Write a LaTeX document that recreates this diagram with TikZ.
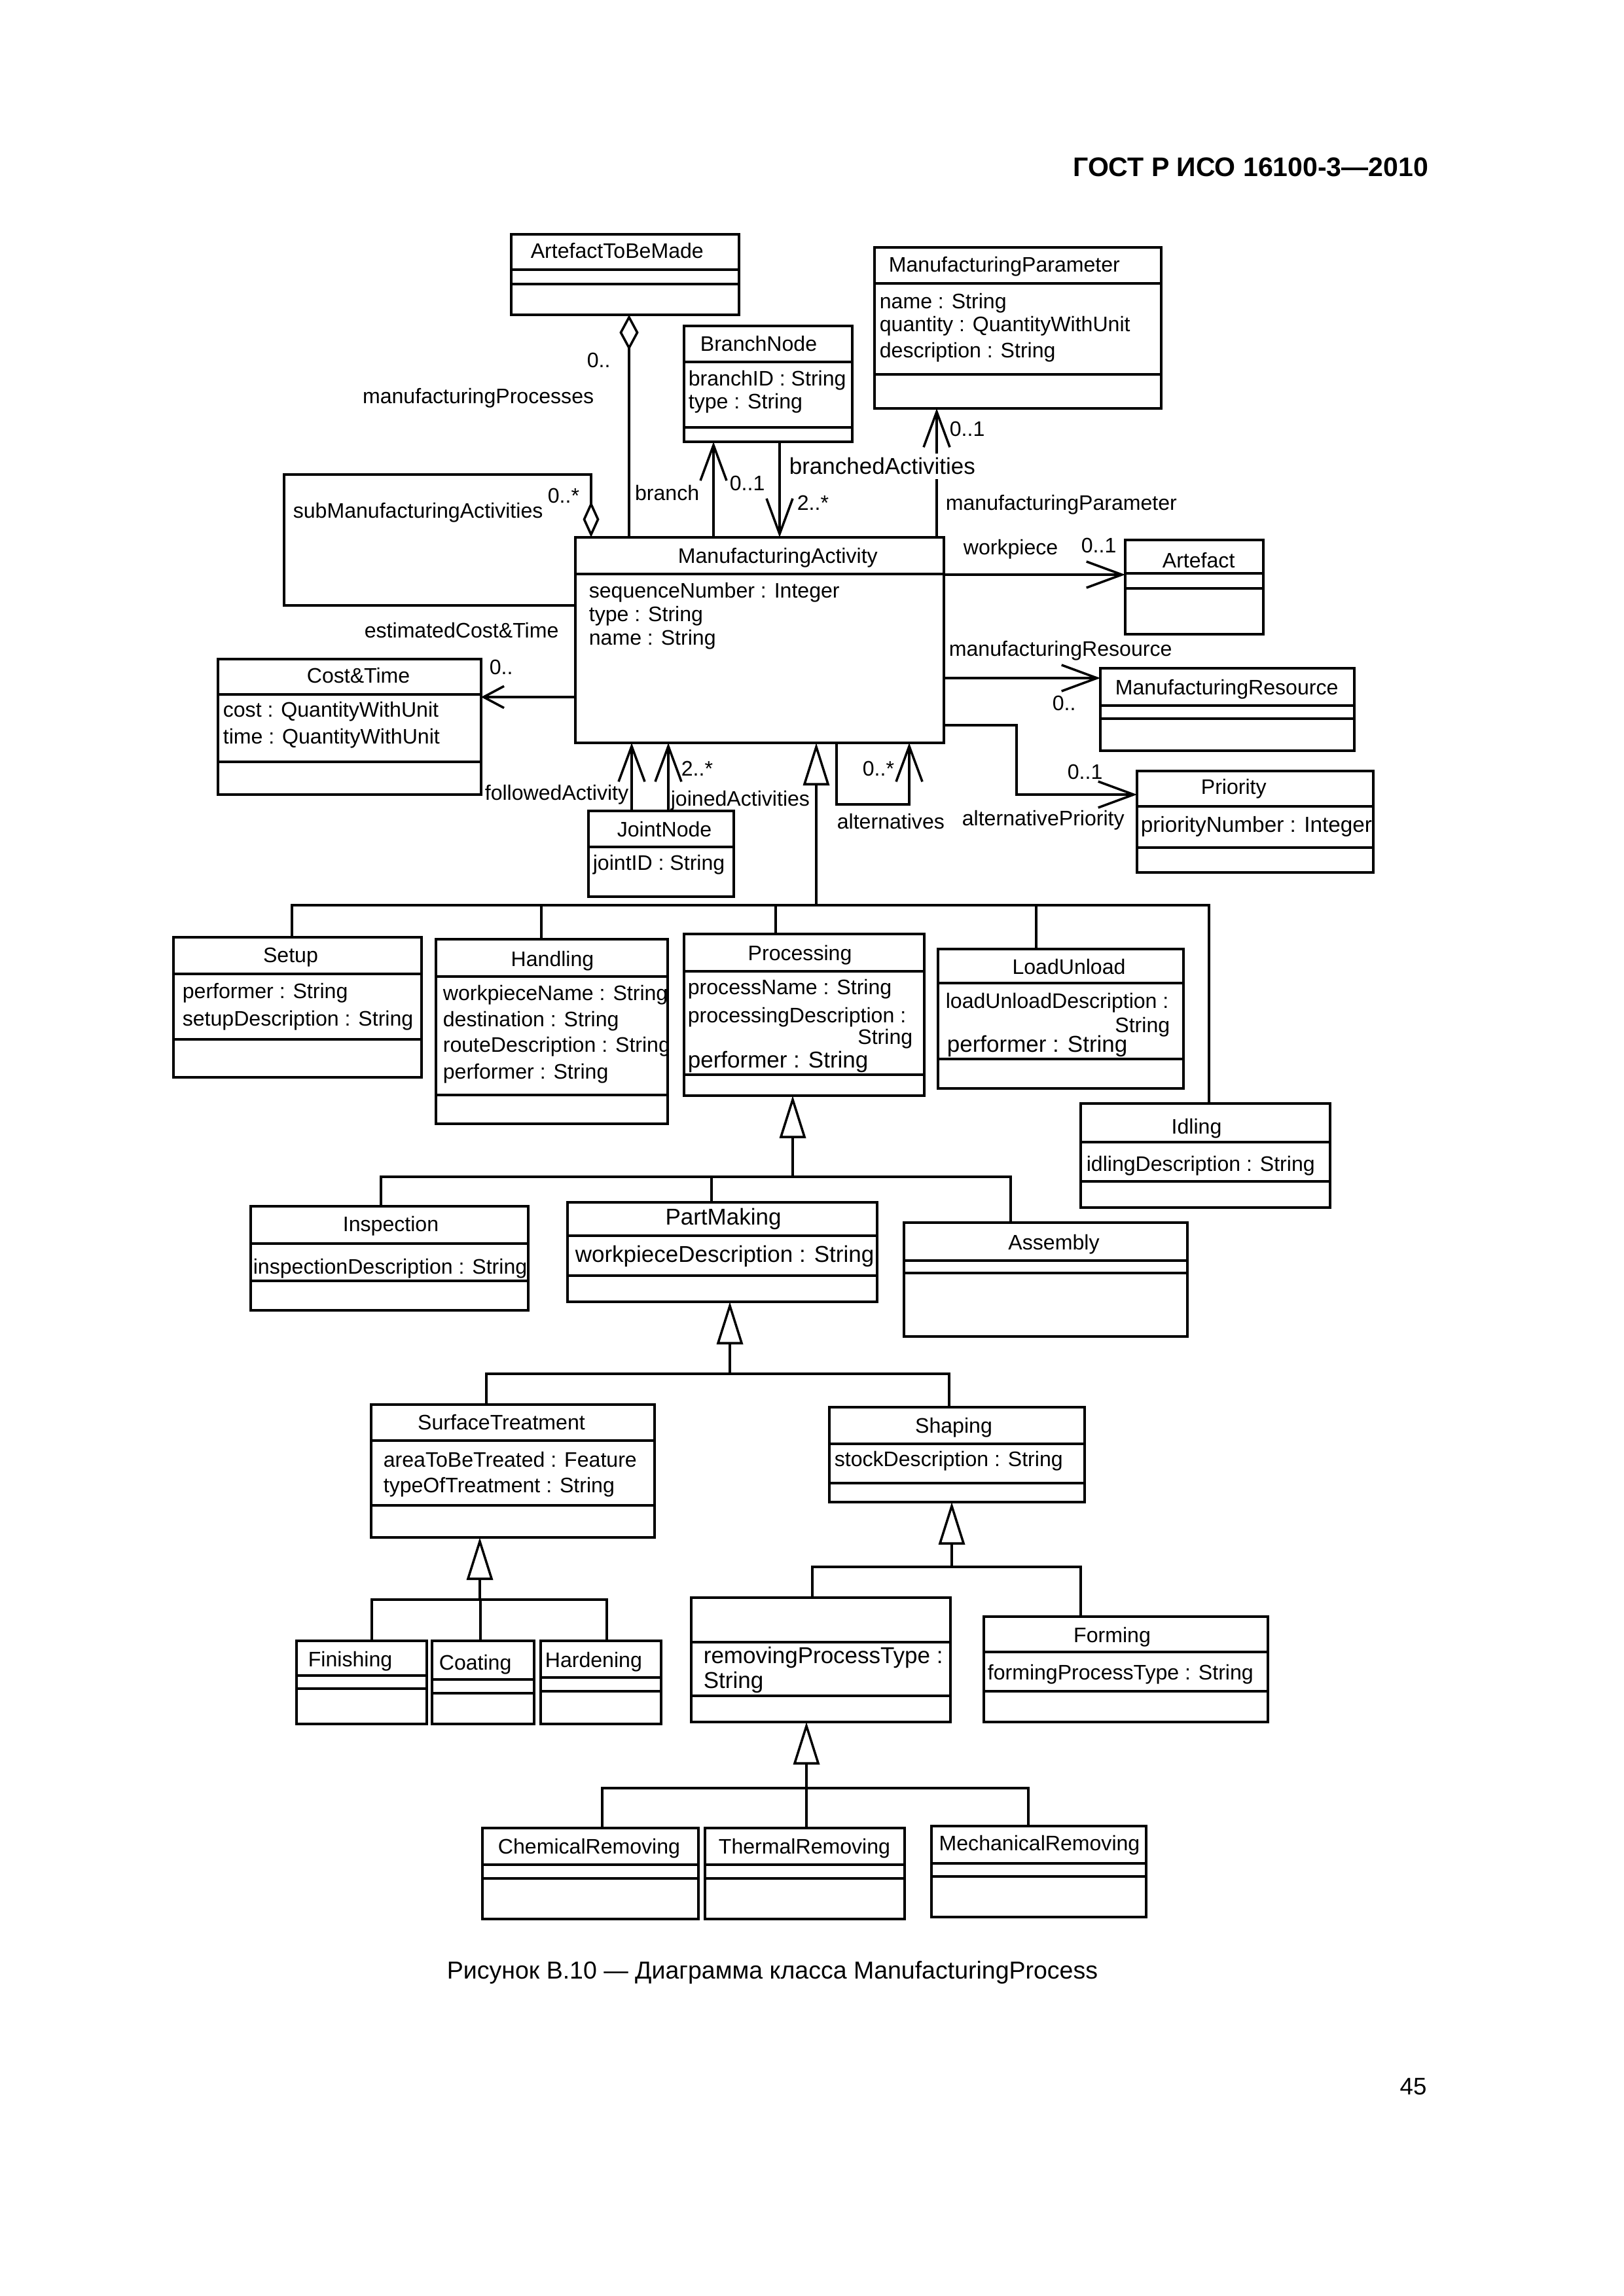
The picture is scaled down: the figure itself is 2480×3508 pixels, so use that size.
\documentclass[tikz,border=0pt]{standalone}
\usepackage{fontspec}
\setmainfont{Liberation Sans}
\usetikzlibrary{arrows.meta}
\tikzset{
 ubox/.style={draw, line width=1pt, inner sep=0pt, outer sep=0pt},
 sepline/.style={line width=1pt},
 conn/.style={line width=0.85pt},
 opena/.style={-{Straight Barb[length=13pt,width=9.6pt]}},
 gen/.style={{Triangle[open,length=15.6pt,width=9.6pt]}-},
 agg/.style={{Diamond[open,length=13pt,width=7pt]}-},
 lbl/.style={inner sep=0pt, font=\fontsize{7.7}{9}\selectfont},
 big/.style={font=\fontsize{8.4}{10}\selectfont},
}
\newcommand\umlbox[7]{%
 \node[ubox, anchor=north west, minimum width={(#4-#2)*0.24pt}, minimum height={(#5-#3)*0.24pt}] (#1) at (#2,#3) {};
 \ifx&#6&\else\draw[sepline] (#1.west |- 0,#6) -- (#1.east |- 0,#6);\fi
 \ifx&#7&\else\draw[sepline] (#1.west |- 0,#7) -- (#1.east |- 0,#7);\fi}
\begin{document}
\begin{tikzpicture}[x=0.24pt,y=-0.24pt]
\useasboundingbox (0,0) rectangle (2480,3508);
\node[lbl, font=\bfseries\fontsize{9.85}{12}\selectfont, anchor=base east] (hdr) at (2183,270) {ГОСТ Р ИСО 16100-3—2010};
% boxes
\umlbox{atbm}{781}{358}{1129}{481}{412}{434}
\umlbox{bn}{1045}{498}{1302}{675}{553}{653}
\umlbox{mp}{1336}{378}{1774}{624}{433}{572}
\umlbox{ma}{879}{821}{1442}{1135}{877}{}
\umlbox{art}{1719}{825}{1930}{969}{876}{899}
\umlbox{mr}{1681}{1021}{2069}{1147}{1078}{1098}
\umlbox{ct}{333}{1007}{735}{1214}{1061}{1164}
\umlbox{prio}{1737}{1178}{2098}{1333}{1232}{1295}
\umlbox{jn}{899}{1239}{1121}{1370}{1294}{}
\umlbox{setup}{265}{1432}{644}{1646}{1488}{1588}
\umlbox{hand}{666}{1435}{1020}{1717}{1492}{1673}
\umlbox{proc}{1045}{1427}{1412}{1674}{1484}{1642}
\umlbox{lu}{1433}{1450}{1808}{1663}{1502}{1618}
\umlbox{idl}{1651}{1686}{2032}{1845}{1745}{1805}
\umlbox{insp}{383}{1843}{807}{2002}{1900}{1957}
\umlbox{pm}{867}{1837}{1340}{1989}{1888}{1949}
\umlbox{asm}{1381}{1868}{1814}{2042}{1926}{1945}
\umlbox{st}{567}{2146}{1000}{2349}{2201}{2300}
\umlbox{shp}{1267}{2150}{1657}{2295}{2206}{2266}
\umlbox{fin}{453}{2507}{652}{2634}{2560}{2580}
\umlbox{coat}{660}{2507}{816}{2634}{2566}{2587}
\umlbox{hard}{826}{2507}{1010}{2634}{2563}{2584}
\umlbox{rem}{1056}{2441}{1452}{2631}{2509}{2591}
\umlbox{form}{1503}{2470}{1937}{2631}{2524}{2584}
\umlbox{chem}{737}{2793}{1067}{2932}{2849}{2870}
\umlbox{therm}{1077}{2793}{1382}{2932}{2849}{2870}
\umlbox{mech}{1423}{2790}{1751}{2929}{2847}{2867}
% associations
\draw[conn, agg] (961,0 |- atbm.south) -- (961,0 |- ma.north);
\draw[conn, opena] (1090,0 |- ma.north) -- (1090,0 |- bn.south);
\draw[conn, opena] (1191,0 |- bn.south) -- (1191,0 |- ma.north);
\draw[conn, opena] (1431,0 |- ma.north) -- (1431,0 |- mp.south);
\coordinate (subTL) at (434,725);
\draw[conn, -{Diamond[open,length=13.2pt,width=6pt]}] (ma.west |- 0,925) -| (subTL) -| (903,0 |- ma.north);
\draw[conn, -{Straight Barb[length=7.5pt,width=8pt]}] (ma.west |- 0,1065) -- (ct.east |- 0,1065);
\draw[conn, opena] (ma.east |- 0,878) -- (art.west |- 0,878);
\draw[conn, opena] (ma.east |- 0,1036) -- (mr.west |- 0,1036);
\draw[conn, opena] (ma.east |- 0,1108) -| (1553,1214) -- (prio.west |- 0,1214);
\draw[conn, opena] (965,0 |- jn.north) -- (965,0 |- ma.south);
\draw[conn, opena] (1021,0 |- jn.north) -- (1021,0 |- ma.south);
\draw[conn, opena] (1278,0 |- ma.south) |- (1389,1229) -- (1389,0 |- ma.south);
% generalizations
\draw[conn, gen] (1247,0 |- ma.south) -- (1247,1383);
\draw[conn] (446,0 |- setup.north) |- (1847,1383) -- (1847,0 |- idl.north);
\draw[conn] (827,0 |- hand.north) -- (827,1383);
\draw[conn] (1185,0 |- proc.north) -- (1185,1383);
\draw[conn] (1583,0 |- lu.north) -- (1583,1383);
\draw[conn, gen] (1211,0 |- proc.south) -- (1211,1798);
\draw[conn] (582,0 |- insp.north) |- (1544,1798) -- (1544,0 |- asm.north);
\draw[conn] (1087,0 |- pm.north) -- (1087,1798);
\draw[conn, gen] (1115,0 |- pm.south) -- (1115,2099);
\draw[conn] (743,0 |- st.north) |- (1450,2099) -- (1450,0 |- shp.north);
\draw[conn, gen] (733,0 |- st.south) -- (733,2444);
\draw[conn] (568,0 |- fin.north) |- (927,2444) -- (927,0 |- hard.north);
\draw[conn] (734,0 |- coat.north) -- (734,2444);
\draw[conn, gen] (1454,0 |- shp.south) -- (1454,2394);
\draw[conn] (1241,0 |- rem.north) |- (1651,2394) -- (1651,0 |- form.north);
\draw[conn, gen] (1232,0 |- rem.south) -- (1232,2732);
\draw[conn] (920,0 |- chem.north) |- (1571,2732) -- (1571,0 |- mech.north);
\draw[conn] (1232,0 |- therm.north) -- (1232,2732);
% texts
\node[lbl, anchor=base west] (t1) at (810,395) {ArtefactToBeMade};
\node[lbl, anchor=base west] (t2) at (896,562) {0..};
\node[lbl, anchor=base east] (t3) at (908,617) {manufacturingProcesses};
\node[lbl, anchor=base west] (t4) at (1069,537) {BranchNode};
\node[lbl, anchor=base west] (t5) at (1051,590) {branchID : String};
\node[lbl, anchor=base west] (t6) at (1051,625) {type : String};
\node[lbl, anchor=base east] (t7) at (1069,765) {branch};
\node[lbl, anchor=base west] (t8) at (1114,750) {0..1};
\node[lbl, anchor=base west] (t9) at (1217,780) {2..*};
\node[lbl, big, anchor=base west, fill=white, inner xsep=0pt, inner ysep=1.5pt] (t10) at (1205,725) {branchedActivities};
\node[lbl, anchor=base west] (t11) at (836,769) {0..*};
\node[lbl, anchor=base west] (t12) at (447,792) {subManufacturingActivities};
\node[lbl, anchor=base west] (t13) at (1357,416) {ManufacturingParameter};
\node[lbl, anchor=base west] (t14) at (1343,472) {name : String};
\node[lbl, anchor=base west] (t15) at (1343,507) {quantity : QuantityWithUnit};
\node[lbl, anchor=base west] (t16) at (1343,547) {description : String};
\node[lbl, anchor=base west] (t17) at (1450,667) {0..1};
\node[lbl, anchor=base west] (t18) at (1444,780) {manufacturingParameter};
\node[lbl, anchor=base west] (t19) at (1035,861) {ManufacturingActivity};
\node[lbl, anchor=base west] (t20) at (899,914) {sequenceNumber : Integer};
\node[lbl, anchor=base west] (t21) at (899,950) {type : String};
\node[lbl, anchor=base west] (t22) at (899,986) {name : String};
\node[lbl, anchor=base west] (t23) at (1471,848) {workpiece};
\node[lbl, anchor=base west] (t24) at (1651,845) {0..1};
\node[lbl, anchor=base west] (t25) at (1775,868) {Artefact};
\node[lbl, anchor=base west] (t26) at (1449,1003) {manufacturingResource};
\node[lbl, anchor=base west] (t27) at (1607,1085) {0..};
\node[lbl, anchor=base west] (t28) at (1703,1061) {ManufacturingResource};
\node[lbl, anchor=base west] (t29) at (556,975) {estimatedCost\&Time};
\node[lbl, anchor=base west] (t30) at (747,1030) {0..};
\node[lbl, anchor=base west] (t31) at (468,1043) {Cost\&Time};
\node[lbl, anchor=base west] (t32) at (340,1095) {cost : QuantityWithUnit};
\node[lbl, anchor=base west] (t33) at (340,1136) {time : QuantityWithUnit};
\node[lbl, anchor=base west] (t34) at (1834,1213) {Priority};
\node[lbl, font=\fontsize{8}{10}\selectfont, anchor=base west] (t35) at (1742,1271) {priorityNumber : Integer};
\node[lbl, anchor=base west] (t36) at (1630,1190) {0..1};
\node[lbl, anchor=base west] (t37) at (1469,1261) {alternativePriority};
\node[lbl, anchor=base west] (t38) at (1040,1185) {2..*};
\node[lbl, anchor=base west] (t39) at (740,1222) {followedActivity};
\node[lbl, anchor=base west] (t40) at (1024,1231) {joinedActivities};
\node[lbl, anchor=base west] (t41) at (942,1278) {JointNode};
\node[lbl, anchor=base west] (t42) at (905,1329) {jointID : String};
\node[lbl, anchor=base west] (t43) at (1317,1185) {0..*};
\node[lbl, anchor=base west] (t44) at (1278,1266) {alternatives};
\node[lbl, anchor=base] (t45) at (444,1470) {Setup};
\node[lbl, anchor=base west] (t46) at (278,1525) {performer : String};
\node[lbl, anchor=base west] (t47) at (278,1567) {setupDescription : String};
\node[lbl, anchor=base] (t48) at (844,1476) {Handling};
\node[lbl, anchor=base west] (t49) at (676,1528) {workpieceName : String};
\node[lbl, anchor=base west] (t50) at (676,1568) {destination : String};
\node[lbl, anchor=base west] (t51) at (676,1607) {routeDescription : String};
\node[lbl, anchor=base west] (t52) at (676,1648) {performer : String};
\node[lbl, anchor=base] (t53) at (1222,1467) {Processing};
\node[lbl, anchor=base west] (t54) at (1050,1519) {processName : String};
\node[lbl, anchor=base west] (t55) at (1050,1562) {processingDescription :};
\node[lbl, anchor=base east] (t56) at (1395,1595) {String};
\node[lbl, big, anchor=base west] (t57) at (1050,1631) {performer : String};
\node[lbl, anchor=base] (t58) at (1633,1488) {LoadUnload};
\node[lbl, anchor=base west] (t59) at (1444,1540) {loadUnloadDescription :};
\node[lbl, anchor=base east] (t60) at (1788,1577) {String};
\node[lbl, big, anchor=base west] (t61) at (1446,1607) {performer : String};
\node[lbl, anchor=base] (t62) at (1828,1732) {Idling};
\node[lbl, anchor=base west] (t63) at (1659,1789) {idlingDescription : String};
\node[lbl, anchor=base] (t64) at (597,1881) {Inspection};
\node[lbl, anchor=base west] (t65) at (386,1946) {inspectionDescription : String};
\node[lbl, big, anchor=base] (t66) at (1105,1871) {PartMaking};
\node[lbl, big, anchor=base west] (t67) at (878,1928) {workpieceDescription : String};
\node[lbl, anchor=base] (t68) at (1610,1909) {Assembly};
\node[lbl, anchor=base] (t69) at (766,2184) {SurfaceTreatment};
\node[lbl, anchor=base west] (t70) at (585,2241) {areaToBeTreated : Feature};
\node[lbl, anchor=base west] (t71) at (585,2280) {typeOfTreatment : String};
\node[lbl, anchor=base] (t72) at (1457,2189) {Shaping};
\node[lbl, anchor=base west] (t73) at (1274,2240) {stockDescription : String};
\node[lbl, anchor=base west] (t74) at (470,2546) {Finishing};
\node[lbl, anchor=base west] (t75) at (670,2551) {Coating};
\node[lbl, anchor=base west] (t76) at (832,2547) {Hardening};
\node[lbl, big, anchor=base west] (t77) at (1074,2541) {removingProcessType :};
\node[lbl, big, anchor=base west] (t78) at (1074,2579) {String};
\node[lbl, anchor=base] (t79) at (1699,2509) {Forming};
\node[lbl, anchor=base west] (t80) at (1508,2566) {formingProcessType : String};
\node[lbl, anchor=base] (t81) at (900,2832) {ChemicalRemoving};
\node[lbl, anchor=base] (t82) at (1229,2832) {ThermalRemoving};
\node[lbl, anchor=base] (t83) at (1588,2827) {MechanicalRemoving};
\node[lbl, font=\fontsize{9}{11}\selectfont, anchor=base] (cap) at (1180,3023) {Рисунок В.10 — Диаграмма класса ManufacturingProcess};
\node[lbl, font=\fontsize{8.8}{11}\selectfont, anchor=base] (pg) at (2159,3200) {45};
\end{tikzpicture}
\end{document}
